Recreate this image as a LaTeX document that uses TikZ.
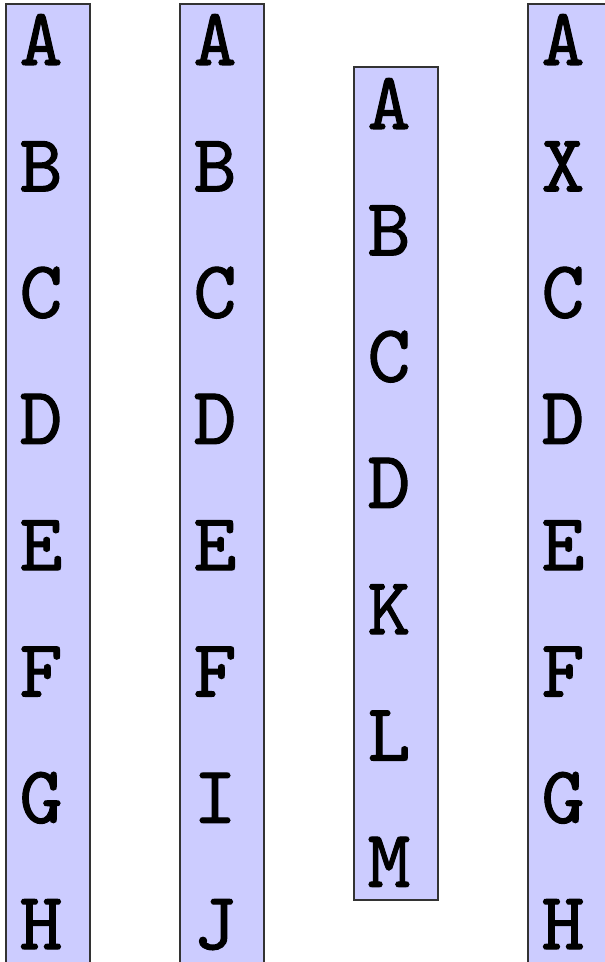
\documentclass[tikz,border=0pt]{standalone}
\usepackage{fontspec}
\setmonofont{lmmono10-regular}[Extension=.otf, FakeBold=1.3]
\usepackage{tikz}
\usetikzlibrary{positioning}

\begin{document}
\begin{tikzpicture}[x=0.3pt, y=-0.3pt,
      col/.style={draw=black!80, line width=0.4pt, fill=blue!20,
                  rectangle, inner sep=0pt, minimum width=25.2pt},
      letter/.style={font=\fontsize{24.5}{29}\selectfont\ttfamily,
                     anchor=base, inner sep=0pt}]
    \clip (0,0) rectangle (605,962);
    \foreach \c/\lx/\ty/\by/\base/\word in {%
        1/6/4/965/65/{A,B,C,D,E,F,G,H},
        2/180/4/965/65/{A,B,C,D,E,F,I,J},
        3/354/67/900/129/{A,B,C,D,K,L,M},
        4/528/4/965/65/{A,X,C,D,E,F,G,H}} {
      \node[col, minimum height={(\by-\ty)*0.3pt}] (col\c)
        at ({\lx+42},{(\ty+\by)/2}) {};
      \foreach \l [count=\k] in \word {
        \node[letter] (col\c-\k) at ({\lx+35},{\base+126.3*(\k-1)}) {\l};
      }
    }
  \end{tikzpicture}
\end{document}
